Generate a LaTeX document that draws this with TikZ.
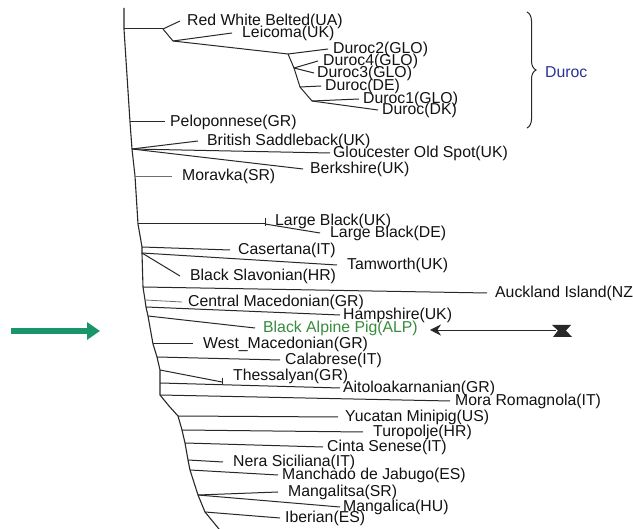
\documentclass[tikz,border=0pt]{standalone}
\usepackage{fontspec}
\setmainfont{Liberation Sans}
\usetikzlibrary{arrows.meta,decorations.pathreplacing}
\definecolor{txtc}{RGB}{18,18,18}
\definecolor{linec}{RGB}{40,40,40}
\definecolor{lightl}{RGB}{110,110,110}
\definecolor{alpgreen}{RGB}{55,140,60}
\definecolor{arrgreen}{RGB}{25,150,105}
\definecolor{durocblue}{RGB}{40,50,150}
\newcommand\lblfont{\fontsize{15.8}{16}\selectfont}
\tikzset{
  lbl/.style={anchor=west, inner sep=0pt, font=\lblfont, text=txtc},
  br/.style={draw=linec, line width=1pt},
  lbr/.style={draw=lightl, line width=0.8pt},
  trunkline/.style={draw=linec, line width=1.1pt, line join=round},
}
\begin{document}
\begin{tikzpicture}[x=1pt,y=-1pt]
\useasboundingbox (0,0) rectangle (633,529);
\clip (0,0) rectangle (633,529);
\fill[white] (0,0) rectangle (633,529);

% labels
\node[lbl] (rwb) at (187,21) {Red White Belted(UA)};
\node[lbl] (lei) at (242,33) {Leicoma(UK)};
\node[lbl] (d2) at (333,49) {Duroc2(GLO)};
\node[lbl] (d4) at (323,61) {Duroc4(GLO)};
\node[lbl] (d3) at (317,73) {Duroc3(GLO)};
\node[lbl] (dde) at (325,86) {Duroc(DE)};
\node[lbl] (d1) at (363,99) {Duroc1(GLO)};
\node[lbl] (ddk) at (382,110) {Duroc(DK)};
\node[lbl] (pel) at (170,122) {Peloponnese(GR)};
\node[lbl] (bsb) at (207,141) {British Saddleback(UK)};
\node[lbl] (gos) at (333,153) {Gloucester Old Spot(UK)};
\node[lbl] (brk) at (310,169) {Berkshire(UK)};
\node[lbl] (mor) at (182,176) {Moravka(SR)};
\node[lbl] (lbuk) at (275,221) {Large Black(UK)};
\node[lbl] (lbde) at (330,233) {Large Black(DE)};
\node[lbl] (cas) at (238,250) {Casertana(IT)};
\node[lbl] (tam) at (347,265) {Tamworth(UK)};
\node[lbl] (bsl) at (190,276) {Black Slavonian(HR)};
\node[lbl] (auck) at (495,293) {Auckland Island(NZ)};
\node[lbl] (cmac) at (188,302) {Central Macedonian(GR)};
\node[lbl] (ham) at (343,315) {Hampshire(UK)};
\node[lbl, text=alpgreen] (bap) at (263,328) {Black Alpine Pig(ALP)};
\node[lbl] (wmac) at (203,344) {West\_Macedonian(GR)};
\node[lbl] (cal) at (285,360) {Calabrese(IT)};
\node[lbl] (the) at (233,376) {Thessalyan(GR)};
\node[lbl] (ait) at (343,388) {Aitoloakarnanian(GR)};
\node[lbl] (mora) at (455,401) {Mora Romagnola(IT)};
\node[lbl] (yuc) at (345,417) {Yucatan Minipig(US)};
\node[lbl] (tur) at (373,432) {Turopolje(HR)};
\node[lbl] (cinta) at (327,447) {Cinta Senese(IT)};
\node[lbl] (nera) at (233,462) {Nera Siciliana(IT)};
\node[lbl] (manch) at (282,475) {Manchado de Jabugo(ES)};
\node[lbl] (mlts) at (288,492) {Mangalitsa(SR)};
\node[lbl] (mlca) at (343,507) {Mangalica(HU)};
\node[lbl] (ibe) at (285,518) {Iberian(ES)};

% trunk points
\coordinate (r0) at (124,8);
\coordinate (r1) at (124,29);
\coordinate (ppel) at (130,122);
\coordinate (pbsb) at (132,149);
\coordinate (pmor) at (135,176);
\coordinate (plb) at (138,224);
\coordinate (pcas) at (142,247);
\coordinate (pbsl) at (142,253);
\coordinate (pauck) at (143,287);
\coordinate (pcmac) at (145,300);
\coordinate (pham) at (146,307);
\coordinate (pbap) at (148,316);
\coordinate (pwmac) at (153,344);
\coordinate (pcal) at (157,357);
\coordinate (pthe) at (160,370);
\coordinate (pait) at (160,383);
\coordinate (pmora) at (160,395);
\coordinate (pbend) at (169,406);
\coordinate (pyuc) at (178,416);
\coordinate (ptur) at (182,430);
\coordinate (pcinta) at (185,443);
\coordinate (pnera) at (188,460);
\coordinate (pmanch) at (190,470);
\coordinate (pmang) at (198,495);
\coordinate (pibe) at (205,512);
\coordinate (pend) at (228,540);

\draw[trunkline] (r0) -- (r1) -- (ppel) -- (pbsb) -- (pmor) -- (plb) -- (pcas) -- (pbsl)
  -- (pauck) -- (pcmac) -- (pham) -- (pbap) -- (pwmac) -- (pcal) -- (pthe) -- (pait)
  -- (pmora) -- (pbend) -- (pyuc) -- (ptur) -- (pcinta) -- (pnera) -- (pmanch)
  -- (pmang) -- (pibe) -- (pend);

% top clade
\coordinate (n1) at (163,29);
\coordinate (n2) at (173,41);
\coordinate (nA) at (288,54);
\coordinate (nB) at (294,68);
\coordinate (nC) at (300,87);
\coordinate (nD) at (312,101);
\draw[br] (r1) -- (n1);
\draw[br] (n1) -- ([xshift=-7pt]rwb.west);
\draw[br] (n1) -- (n2);
\draw[br] (n2) -- ([xshift=-10pt]lei.west);
\draw[br] (n2) -- (nA);
\draw[br] (nA) -- ([xshift=-5pt]d2.west);
\draw[br] (nA) -- (nB);
\draw[br] (nB) -- ([xshift=-5pt]d4.west);
\draw[br] (nB) -- ([xshift=-3pt]d3.west);
\draw[br] (nB) -- (nC);
\draw[br] (nC) -- ([xshift=-4pt]dde.west);
\draw[br] (nC) -- (nD);
\draw[br] (nD) -- ([xshift=-4pt]d1.west);
\draw[br] (nD) -- ([xshift=-4pt]ddk.west);

% brace
\draw[draw=linec, line width=1pt, decorate, decoration={brace, amplitude=9pt}]
  (527,12) -- (527,128);
\node[anchor=west, inner sep=0pt, font=\lblfont, text=durocblue] (durlab) at (545,72) {Duroc};

% branches
\draw[br] (ppel) -- ([xshift=-5pt]pel.west);
\draw[br] (pbsb) -- ([xshift=-9pt]bsb.west);
\draw[br] (pbsb) -- ([xshift=-3pt]gos.west);
\draw[br] (pbsb) -- ([xshift=-7pt]brk.west);
\draw[lbr] (pmor) -- ([xshift=-10pt]mor.west);
\coordinate (lbtick) at (265,224);
\draw[br] (plb) -- (lbtick);
\draw[br] (265,218) -- (265,226);
\draw[br] (lbtick) -- ([xshift=-10pt]lbde.west);
\draw[br] (pcas) -- ([xshift=-8pt]cas.west);
\draw[br] (pbsl) -- ([xshift=-10pt]tam.west);
\draw[br] (pbsl) -- ([xshift=-10pt]bsl.west);
\draw[br] (pauck) -- ([xshift=-8pt]auck.west);
\draw[lbr] (pcmac) -- ([xshift=-6pt]cmac.west);
\draw[br] (pham) -- ([xshift=-3pt]ham.west);
\draw[br] (pbap) -- ([xshift=-8pt]bap.west);
\draw[br] (pwmac) -- ([xshift=-10pt]wmac.west);
\draw[br] (pcal) -- ([xshift=-5pt]cal.west);
\coordinate (thetick) at (222,382);
\draw[br] (pthe) -- (thetick);
\draw[br] (222,378) -- (222,385);
\draw[br] (pait) -- ([xshift=-3pt]ait.west);
\draw[br] (pmora) -- ([xshift=-5pt]mora.west);
\draw[br] (pyuc) -- ([xshift=-7pt]yuc.west);
\draw[br] (ptur) -- ([xshift=-10pt]tur.west);
\draw[br] (pcinta) -- ([xshift=-4pt]cinta.west);
\draw[br] (pnera) -- ([xshift=-10pt]nera.west);
\draw[br] (pmanch) -- ([xshift=-4pt]manch.west);
\draw[br] (pmang) -- ([xshift=-10pt]mlts.west);
\draw[br] (pmang) -- ([xshift=-3pt]mlca.west);
\draw[br] (pibe) -- ([xshift=-5pt]ibe.west);

% pointer arrow on the right
\coordinate (arrtip) at (430,330);
\coordinate (arrtail) at (556,330);
\draw[draw=linec, line width=0.9pt, -{Stealth[length=11pt,width=11pt]}] (arrtail) -- (arrtip);
\fill[linec] (552,325) -- (571,325) -- (566,330.5) -- (572,337) -- (553,337) -- (558,330.5) -- cycle;

% green arrow on the left
\coordinate (gstart) at (11,331);
\coordinate (gend) at (100,331);
\draw[draw=arrgreen, line width=6pt, -{Triangle[length=13pt,width=17pt]}] (gstart) -- (gend);
\end{tikzpicture}
\end{document}
